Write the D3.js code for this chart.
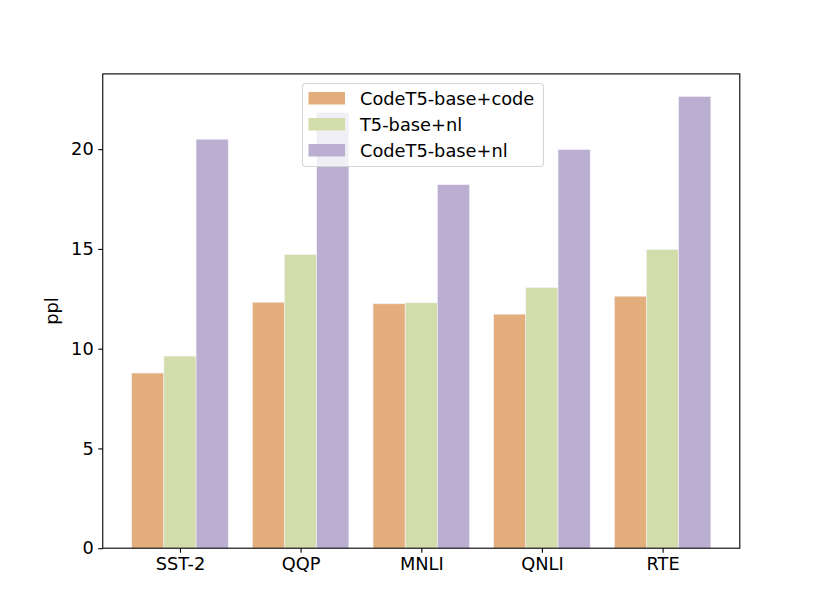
<!DOCTYPE html>
<html>
<head>
<meta charset="utf-8">
<script src="https://cdn.jsdelivr.net/npm/d3@7"></script>
<style>
  body { margin: 0; background: #fff; }
  text { font-family: "DejaVu Sans", sans-serif; }
</style>
</head>
<body>
<div id="svg"></div>
<script>
// datos del grafico
const tareas = ["SST-2", "QQP", "MNLI", "QNLI", "RTE"];
const series = ["CodeT5-base+code", "T5-base+nl", "CodeT5-base+nl"];
const codeT5Code = [8.78, 12.33, 12.25, 11.73, 12.63];
const t5Nl = [9.63, 14.72, 12.3, 13.06, 14.96];
const codeT5Nl = [20.5, 21.85, 18.22, 19.98, 22.64];
const colores = ["#e3ae7b", "#d2ddab", "#bbafd1"];
const yTicks = [0, 5, 10, 15, 20];

const valores = [codeT5Code, t5Nl, codeT5Nl];

const width = 822;
const height = 616;
const margin = { top: 73.9, bottom: 616 - 548.2, left: 102.75, right: 822 - 739.8 };
const fuente = "17.8px";

const svg = d3.select("#svg")
    .append("svg")
    .attr("width", width)
    .attr("height", height);

const anchoBarra = 0.8 / 3;
const maxVal = d3.max(valores.flat());

// escalas estilo matplotlib (margen 5%)
const x = d3.scaleLinear()
    .domain([-0.4 - 0.24, tareas.length - 1 + 0.4 + 0.24])
    .range([margin.left, width - margin.right]);
const y = d3.scaleLinear()
    .domain([0, maxVal * 1.05])
    .range([height - margin.bottom, margin.top]);

// barras
valores.forEach((serie, s) => {
    svg.append("g")
        .selectAll("rect")
        .data(serie)
        .join("rect")
        .attr("x", (d, i) => x(i + (s - 1) * anchoBarra - anchoBarra / 2))
        .attr("width", x(anchoBarra) - x(0))
        .attr("y", (d) => y(d))
        .attr("height", (d) => y(0) - y(d))
        .attr("fill", colores[s])
        .attr("stroke", "#f4f1f8")
        .attr("stroke-width", 0.6);
});

// ejes
const ejeX = d3.axisBottom(x)
    .tickValues(d3.range(tareas.length))
    .tickFormat((d) => tareas[d])
    .tickSize(4.5)
    .tickPadding(4.5);
const ejeY = d3.axisLeft(y)
    .tickValues(yTicks)
    .tickSize(4.5)
    .tickPadding(4.5);

const gx = svg.append("g")
    .attr("transform", `translate(0,${height - margin.bottom})`)
    .call(ejeX);
const gy = svg.append("g")
    .attr("transform", `translate(${margin.left},0)`)
    .call(ejeY);

[gx, gy].forEach((g) => {
    g.select(".domain").remove();
    g.selectAll("line").attr("stroke", "#000").attr("stroke-width", 1.1);
    g.selectAll("text").attr("font-size", fuente).attr("fill", "#000")
        .attr("font-family", "DejaVu Sans");
});

// marco
svg.append("rect")
    .attr("x", margin.left)
    .attr("y", margin.top)
    .attr("width", width - margin.left - margin.right)
    .attr("height", height - margin.top - margin.bottom)
    .attr("fill", "none")
    .attr("stroke", "#000")
    .attr("stroke-width", 1.1);

// etiqueta eje y
svg.append("text")
    .attr("transform", `translate(58,${(margin.top + height - margin.bottom) / 2}) rotate(-90)`)
    .attr("text-anchor", "middle")
    .attr("font-size", fuente)
    .text("ppl");

// leyenda
const leyenda = svg.append("g");
leyenda.append("rect")
    .attr("x", 302.5)
    .attr("y", 83.5)
    .attr("width", 241)
    .attr("height", 83)
    .attr("rx", 3.5)
    .attr("fill", "#fff")
    .attr("fill-opacity", 0.8)
    .attr("stroke", "#d6d6d6")
    .attr("stroke-width", 1.1);

series.forEach((nombre, i) => {
    const fy = 92 + i * 26;
    leyenda.append("rect")
        .attr("x", 308.5)
        .attr("y", fy)
        .attr("width", 36.5)
        .attr("height", 12.5)
        .attr("fill", colores[i]);
    leyenda.append("text")
        .attr("x", 360)
        .attr("y", fy + 12.5)
        .attr("font-size", fuente)
        .text(nombre);
});
</script>
</body>
</html>
